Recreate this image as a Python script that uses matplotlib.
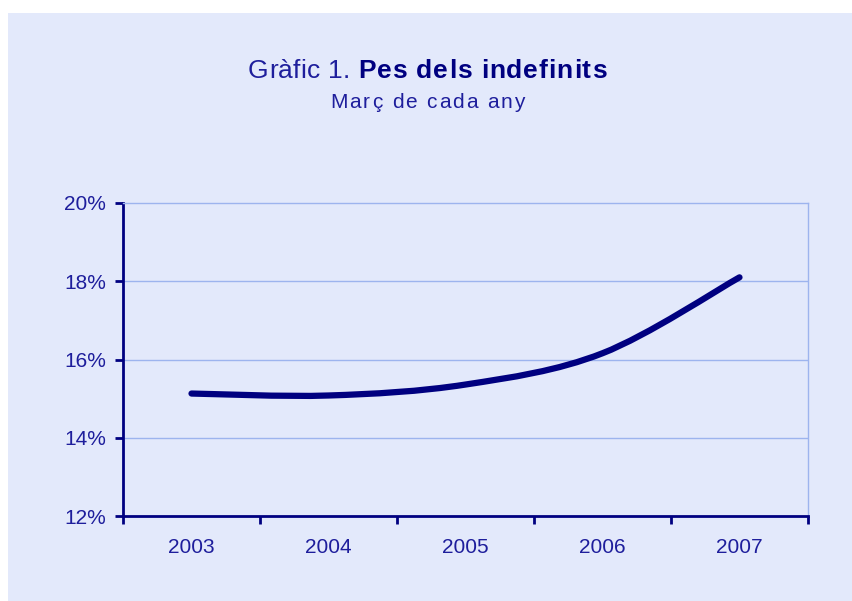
import matplotlib
matplotlib.use("Agg")
import matplotlib.pyplot as plt
import numpy as np
from matplotlib.path import Path
from matplotlib.patches import PathPatch, Rectangle

# dades
anys = ['2003', '2004', '2005', '2006', '2007']
pes = [15.13, 15.08, 15.36, 16.16, 18.10]
yticks = [12, 14, 16, 18, 20]

plt.rcParams['font.family'] = ['Liberation Sans', 'DejaVu Sans']

W, H = 853, 601
fig = plt.figure(figsize=(W / 100, H / 100), dpi=100, facecolor='white')
fons = '#E3E9FB'
navy = '#000080'
txt = '#1E1E9C'
grid = '#9DB4EE'

fig.patches.append(Rectangle((8 / W, 0), 1 - 8 / W, (H - 13) / H,
                             transform=fig.transFigure, facecolor=fons,
                             edgecolor='none', zorder=-10))

ax = fig.add_axes([123 / W, (H - 516) / H, (808 - 123) / W, (516 - 203) / H])
ax.set_facecolor(fons)

x = np.arange(len(pes))
y = np.array(pes)

# linia suavitzada (bezier tipus excel)
pts = np.column_stack([x, y])
ext = np.vstack([pts[0], pts, pts[-1]])
verts = [tuple(pts[0])]
codes = [Path.MOVETO]
for i in range(len(pts) - 1):
    p0, p1, p2, p3 = ext[i], ext[i + 1], ext[i + 2], ext[i + 3]
    c1 = p1 + (p2 - p0) / 6
    c2 = p2 - (p3 - p1) / 6
    verts += [tuple(c1), tuple(c2), tuple(p2)]
    codes += [Path.CURVE4] * 3
ax.add_patch(PathPatch(Path(verts, codes), fill=False, edgecolor=navy,
                       lw=4.5, capstyle='round', joinstyle='round', zorder=3))

ax.set_xlim(-0.5, len(pes) - 0.5)
ax.set_ylim(12, 20)
ax.set_yticks(yticks)
ax.set_yticklabels([f'{v}%' for v in yticks])
for v in yticks[1:-1]:
    ax.axhline(v, color=grid, lw=1, zorder=1)

ax.set_xticks(np.arange(-0.5, len(pes)))
ax.set_xticklabels([])
ax.set_xticks(x, minor=True)
ax.set_xticklabels(anys, minor=True)
ax.tick_params(axis='x', which='major', direction='out', length=6, width=2, color=navy)
ax.tick_params(axis='x', which='minor', length=0, pad=16, labelsize=15, labelcolor=txt)
ax.tick_params(axis='y', direction='out', length=6, width=2, color=navy,
               pad=6, labelsize=15, labelcolor=txt)

for s in ['left', 'bottom']:
    ax.spines[s].set_color(navy)
    ax.spines[s].set_linewidth(2)
for s in ['top', 'right']:
    ax.spines[s].set_color(grid)
    ax.spines[s].set_linewidth(1)


def espaiat(x0, ypx, s, track, **kw):
    # text amb espai extra entre lletres
    r = fig.canvas.get_renderer()
    xp = x0
    for ch in s:
        t = fig.text(xp / W, 1 - ypx / H, ch, ha='left', va='baseline', **kw)
        if ch == ' ':
            w = t.get_fontsize() * 100 / 72 * 0.278
        else:
            w = t.get_window_extent(r).width
        xp += w + track
    return xp


fig.canvas.draw()
xe = espaiat(248, 78, 'Gràfic 1. ', 0.3, fontsize=19, color=txt)
espaiat(xe, 78, 'Pes dels indefinits', 0.9, fontsize=19, color=navy,
        fontweight='bold')
espaiat(330, 108, 'Març de cada any', 1.9, fontsize=15, color=txt)

fig.savefig('out.png', dpi=100, facecolor='white')
